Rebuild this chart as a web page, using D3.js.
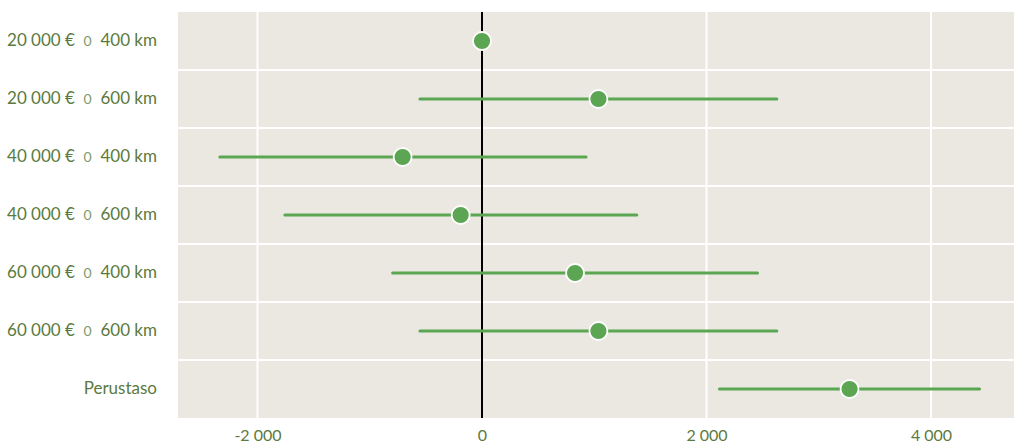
<!DOCTYPE html>
<html>
<head>
<meta charset="utf-8">
<script src="https://cdn.jsdelivr.net/npm/d3@7"></script>
<style>
  html, body { margin: 0; padding: 0; background: #fff; }
  svg { display: block; }
  text { font-family: Lato, "Open Sans", sans-serif; white-space: pre; }
</style>
</head>
<body>
<svg id="chart" width="1017" height="446"></svg>
<script>
// Coefficient estimates with confidence intervals per attribute level
const categories = [
  "20 000 € 0 400 km",
  "20 000 € 0 600 km",
  "40 000 € 0 400 km",
  "40 000 € 0 600 km",
  "60 000 € 0 400 km",
  "60 000 € 0 600 km",
  "Perustaso"
];
const estimates = [0, 1037, -707, -190, 829, 1037, 3274];
const lowerBounds = [0, -553, -2335, -1756, -796, -553, 2115];
const upperBounds = [0, 2626, 927, 1379, 2454, 2626, 4432];
const tickValues = [-2000, 0, 2000, 4000];

const data = categories.map((c, i) => ({
  cat: c, est: estimates[i], lo: lowerBounds[i], hi: upperBounds[i]
}));

const svg = d3.select("#chart");
const margin = { left: 178, right: 3, top: 12, bottom: 28 };
const W = 1017, H = 446;

const x = d3.scaleLinear()
  .domain([-2708, 4739])
  .range([margin.left, W - margin.right]);

const y = d3.scaleBand()
  .domain(categories)
  .range([margin.top, H - margin.bottom]);

const labelColor = "#5b7a3e";
const green = "#5ba553";

// plot background
svg.append("rect")
  .attr("x", x.range()[0]).attr("y", y.range()[0])
  .attr("width", x.range()[1] - x.range()[0])
  .attr("height", y.range()[1] - y.range()[0])
  .attr("fill", "#ebe8e1");

// vertical grid at ticks
svg.append("g").selectAll("line")
  .data(tickValues.filter(v => v !== 0))
  .join("line")
  .attr("x1", d => x(d)).attr("x2", d => x(d))
  .attr("y1", y.range()[0]).attr("y2", y.range()[1])
  .attr("stroke", "#fff").attr("stroke-width", 2);

// horizontal separators between rows
svg.append("g").selectAll("line")
  .data(categories.slice(1))
  .join("line")
  .attr("x1", x.range()[0]).attr("x2", x.range()[1])
  .attr("y1", d => y(d)).attr("y2", d => y(d))
  .attr("stroke", "#fff").attr("stroke-width", 2);

// zero reference line
svg.append("line")
  .attr("x1", x(0)).attr("x2", x(0))
  .attr("y1", y.range()[0]).attr("y2", y.range()[1])
  .attr("stroke", "#000").attr("stroke-width", 2);

const rowMid = d => y(d) + y.bandwidth() / 2;

// confidence interval bars
svg.append("g").selectAll("line")
  .data(data.filter(d => d.hi > d.lo))
  .join("line")
  .attr("x1", d => x(d.lo)).attr("x2", d => x(d.hi))
  .attr("y1", d => rowMid(d.cat)).attr("y2", d => rowMid(d.cat))
  .attr("stroke", green).attr("stroke-width", 3)
  .attr("stroke-linecap", "round");

// point estimates
svg.append("g").selectAll("circle")
  .data(data)
  .join("circle")
  .attr("cx", d => x(d.est)).attr("cy", d => rowMid(d.cat))
  .attr("r", 9)
  .attr("fill", green)
  .attr("stroke", "#fff").attr("stroke-width", 1.8);

// x axis
const loc = d3.formatLocale({ decimal: ",", thousands: " ", grouping: [3], currency: ["", " €"], minus: "-" });
const fmt = loc.format(",d");
const xAxis = svg.append("g")
  .attr("transform", `translate(0,${y.range()[1]})`)
  .call(d3.axisBottom(x).tickValues(tickValues).tickFormat(fmt).tickSize(0).tickPadding(12));
xAxis.select(".domain").remove();
xAxis.selectAll("text")
  .attr("fill", labelColor)
  .style("font-size", "16px")
  .style("font-family", "Lato, 'Open Sans', sans-serif");

// category labels
const labels = svg.append("g").selectAll("text")
  .data(categories)
  .join("text")
  .attr("x", margin.left - 21)
  .attr("y", d => rowMid(d) - 1)
  .attr("dy", "0.35em")
  .attr("text-anchor", "end")
  .attr("fill", labelColor)
  .style("font-size", "17px");

labels.each(function(d) {
  const t = d3.select(this);
  const parts = d.split(" 0 ");
  if (parts.length === 2) {
    t.append("tspan").text(parts[0] + "  ");
    t.append("tspan").attr("fill", "#7f9a68").style("font-size", "14px").text("0");
    t.append("tspan").text("  " + parts[1]);
  } else {
    t.text(d);
  }
});
</script>
</body>
</html>
